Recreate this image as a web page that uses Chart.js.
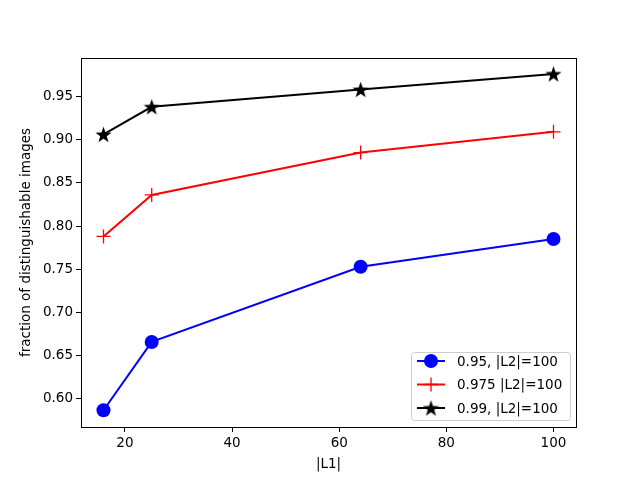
<!DOCTYPE html>
<html>
<head>
<meta charset="utf-8">
<script src="https://cdn.jsdelivr.net/npm/chart.js@4"></script>
<style>
html,body{margin:0;padding:0;background:#fff;}
#wrap{width:640px;height:480px;}
</style>
</head>
<body>
<div id="wrap"><canvas id="chart" width="640" height="480"></canvas></div>
<script>
// data
const l1Sizes = [16, 25, 64, 100];
const frac095 = [0.587, 0.666, 0.753, 0.785];
const frac0975 = [0.788, 0.836, 0.885, 0.909];
const frac099 = [0.906, 0.938, 0.958, 0.976];
const seriesNames = ['0.95, |L2|=100', '0.975 |L2|=100', '0.99, |L2|=100'];
const xTicks = [20, 40, 60, 80, 100];
const yTicks = [0.60, 0.65, 0.70, 0.75, 0.80, 0.85, 0.90, 0.95];

const FONT = 'DejaVu Sans';

// filled star marker
function makeStar(size, color){
    const c = document.createElement('canvas');
    c.width = size; c.height = size;
    const g = c.getContext('2d');
    const cx = size/2, cy = size/2 + 0.8, R = size/2, r = R*0.4;
    g.beginPath();
    for(let i=0;i<10;i++){
        const rad = i%2===0 ? R : r;
        const a = -Math.PI/2 + i*Math.PI/5;
        const px = cx + rad*Math.cos(a), py = cy + rad*Math.sin(a);
        if(i===0) g.moveTo(px,py); else g.lineTo(px,py);
    }
    g.closePath();
    g.fillStyle = color;
    g.fill();
    return c;
}
const starImg = makeStar(17, '#000');

function toPts(ys){
    return l1Sizes.map((x,i)=>({x:x, y:ys[i]}));
}

const datasets = [
    {
        label: seriesNames[0],
        data: toPts(frac095),
        borderColor: '#0000ff',
        backgroundColor: '#0000ff',
        pointStyle: 'circle',
        pointRadius: 7,
        pointBorderWidth: 0
    },
    {
        label: seriesNames[1],
        data: toPts(frac0975),
        borderColor: '#ff0000',
        backgroundColor: '#ff0000',
        pointStyle: 'cross',
        pointRadius: 7,
        pointBorderWidth: 1.3
    },
    {
        label: seriesNames[2],
        data: toPts(frac099),
        borderColor: '#000000',
        backgroundColor: '#000000',
        pointStyle: starImg,
        pointRadius: 8
    }
];
datasets.forEach(d=>{
    d.borderWidth = 2;
    d.tension = 0;
    d.fill = false;
    d.pointHoverRadius = d.pointRadius;
});

// frame + legend box like matplotlib
const framePlugin = {
    id: 'frame',
    afterDraw(chart){
        const ctx = chart.ctx;
        const a = chart.chartArea;
        ctx.save();
        ctx.strokeStyle = '#000';
        ctx.lineWidth = 1;
        ctx.strokeRect(Math.round(a.left)+0.5, Math.round(a.top)+0.5,
            Math.round(a.right-a.left), Math.round(a.bottom-a.top));

        // legend
        const bx = 411, by = 352, bw = 159, bh = 68;
        ctx.beginPath();
        ctx.roundRect(bx+0.5, by+0.5, bw, bh, 3);
        ctx.fillStyle = 'rgba(255,255,255,0.8)';
        ctx.fill();
        ctx.strokeStyle = '#cccccc';
        ctx.stroke();
        ctx.font = '13.5px "' + FONT + '"';
        ctx.textBaseline = 'middle';
        datasets.forEach((d,i)=>{
            const y = 361 + i*23.5;
            ctx.strokeStyle = d.borderColor;
            ctx.lineWidth = 2;
            ctx.beginPath();
            ctx.moveTo(417, y); ctx.lineTo(445, y);
            ctx.stroke();
            const mx = 431;
            if(i===0){
                ctx.fillStyle = d.backgroundColor;
                ctx.beginPath();
                ctx.arc(mx, y, 7, 0, Math.PI*2);
                ctx.fill();
            }else if(i===1){
                ctx.lineWidth = 1.3;
                ctx.beginPath();
                ctx.moveTo(mx-7, y); ctx.lineTo(mx+7, y);
                ctx.moveTo(mx, y-7); ctx.lineTo(mx, y+7);
                ctx.stroke();
            }else{
                ctx.drawImage(starImg, mx-8.5, y-8.5);
            }
            ctx.fillStyle = '#000';
            ctx.fillText(d.label, 457, y+1);
        });
        ctx.restore();
    }
};

const ctx = document.getElementById('chart').getContext('2d');
const chart = new Chart(ctx, {
    type: 'line',
    data: { datasets: datasets },
    options: {
        responsive: false,
        animation: false,
        events: [],
        layout: { padding: { left: 18, top: 58, right: 64, bottom: 7 } },
        plugins: {
            legend: { display: false },
            tooltip: { enabled: false }
        },
        scales: {
            x: {
                type: 'linear',
                min: 11.8,
                max: 104.2,
                afterBuildTicks: s => { s.ticks = xTicks.map(v=>({value:v})); },
                afterFit: s => { s.height = 46; },
                grid: { drawOnChartArea: false, drawTicks: true, tickLength: 5, color: '#000' },
                border: { display: true, color: '#000' },
                ticks: { color: '#000', font: { family: FONT, size: 13.5 }, padding: 3, maxRotation: 0 },
                title: { display: true, text: '|L1|', color: '#000', font: { family: FONT, size: 13.5 }, padding: { top: 3, bottom: 0 } }
            },
            y: {
                type: 'linear',
                min: 0.5676,
                max: 0.9944,
                afterBuildTicks: s => { s.ticks = yTicks.map(v=>({value:v})); },
                afterFit: s => { s.width = 63; },
                grid: { drawOnChartArea: false, drawTicks: true, tickLength: 5, color: '#000' },
                border: { display: true, color: '#000' },
                ticks: { color: '#000', font: { family: FONT, size: 13.5 }, padding: 3, callback: v => v.toFixed(2) },
                title: { display: true, text: 'fraction of distinguishable images', color: '#000', font: { family: FONT, size: 13.5 }, padding: { top: 0, bottom: 4 } }
            }
        }
    },
    plugins: [framePlugin]
});
</script>
</body>
</html>
